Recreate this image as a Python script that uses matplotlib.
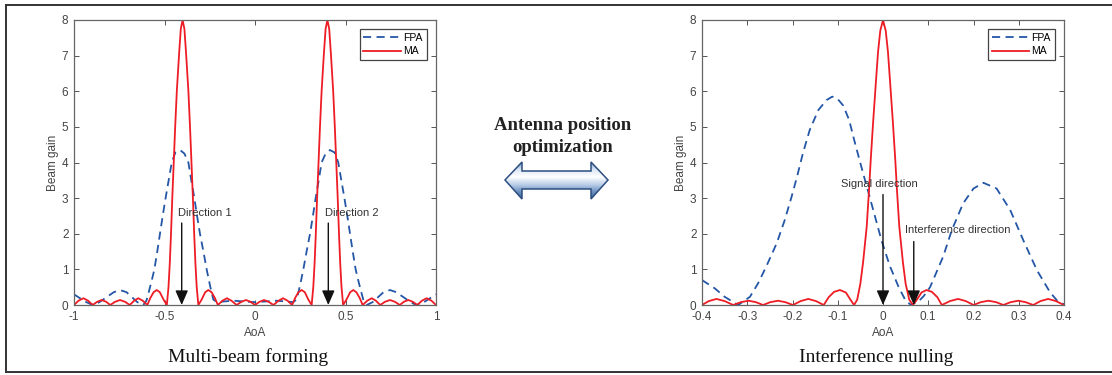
import numpy as np
import matplotlib
matplotlib.use("Agg")
import matplotlib.pyplot as plt
from matplotlib.patches import Polygon
from matplotlib.colors import LinearSegmentedColormap

plt.rcParams["font.family"] = ["Liberation Sans", "DejaVu Sans"]

# ---- left panel: multi-beam forming ----
aoa_ma_left = [
    -1.0, -0.975, -0.948, -0.922, -0.897, -0.872, -0.847, -0.822, -0.8, -0.773,
    -0.746, -0.718, -0.692, -0.668, -0.645, -0.62, -0.595, -0.578, -0.56, -0.543,
    -0.526, -0.505, -0.487, -0.478, -0.471, -0.464, -0.457, -0.449, -0.441, -0.432,
    -0.42, -0.41, -0.4, -0.39, -0.38, -0.368, -0.359, -0.351, -0.343, -0.336,
    -0.329, -0.322, -0.313, -0.295, -0.275, -0.258, -0.24, -0.222, -0.205, -0.18,
    -0.155, -0.13, -0.102, -0.075, -0.05, -0.025, 0.0, 0.025, 0.05, 0.075,
    0.102, 0.13, 0.155, 0.18, 0.205, 0.222, 0.24, 0.258, 0.275, 0.295,
    0.313, 0.322, 0.329, 0.336, 0.343, 0.351, 0.359, 0.368, 0.38, 0.39,
    0.4, 0.41, 0.42, 0.432, 0.441, 0.449, 0.457, 0.464, 0.471, 0.478,
    0.487, 0.505, 0.526, 0.543, 0.56, 0.578, 0.595, 0.62, 0.645, 0.668,
    0.692, 0.718, 0.746, 0.773, 0.8, 0.822, 0.847, 0.872, 0.897, 0.922,
    0.948, 0.975, 1.0,
]
gain_ma_left = [
    0.0, 0.12, 0.19, 0.12, 0.0, 0.09, 0.14, 0.09, 0.0, 0.09,
    0.14, 0.09, 0.0, 0.12, 0.19, 0.12, 0.0, 0.2, 0.36, 0.42,
    0.36, 0.15, 0.0, 0.5, 1.15, 2.0, 3.0, 4.0, 5.0, 6.0,
    7.0, 7.75, 8.0, 7.75, 7.0, 6.0, 5.0, 4.0, 3.0, 2.0,
    1.15, 0.5, 0.0, 0.15, 0.36, 0.42, 0.36, 0.2, 0.0, 0.12,
    0.19, 0.12, 0.0, 0.09, 0.14, 0.09, 0.0, 0.09, 0.14, 0.09,
    0.0, 0.12, 0.19, 0.12, 0.0, 0.2, 0.36, 0.42, 0.36, 0.15,
    0.0, 0.5, 1.15, 2.0, 3.0, 4.0, 5.0, 6.0, 7.0, 7.75,
    8.0, 7.75, 7.0, 6.0, 5.0, 4.0, 3.0, 2.0, 1.15, 0.5,
    0.0, 0.15, 0.36, 0.42, 0.36, 0.2, 0.0, 0.12, 0.19, 0.12,
    0.0, 0.09, 0.14, 0.09, 0.0, 0.09, 0.14, 0.09, 0.0, 0.12,
    0.19, 0.12, 0.0,
]
aoa_fpa_left = [
    -1.0, -0.97, -0.94, -0.91, -0.89, -0.86, -0.82, -0.78, -0.746, -0.71,
    -0.68, -0.65, -0.617, -0.6, -0.585, -0.57, -0.556, -0.54, -0.525, -0.51,
    -0.494, -0.477, -0.46, -0.44, -0.414, -0.39, -0.368, -0.352, -0.335, -0.32,
    -0.304, -0.285, -0.267, -0.255, -0.242, -0.23, -0.21, -0.17, -0.12, -0.06,
    0.0, 0.06, 0.12, 0.17, 0.21, 0.23, 0.242, 0.255, 0.267, 0.285,
    0.304, 0.32, 0.335, 0.352, 0.368, 0.39, 0.414, 0.44, 0.46, 0.477,
    0.494, 0.51, 0.525, 0.54, 0.556, 0.57, 0.585, 0.6, 0.617, 0.65,
    0.68, 0.71, 0.746, 0.78, 0.82, 0.86, 0.89, 0.91, 0.94, 0.97, 1.0,
]
gain_fpa_left = [
    0.30, 0.2, 0.1, 0.03, 0.0, 0.08, 0.22, 0.36, 0.42, 0.36,
    0.22, 0.08, 0.0, 0.12, 0.4, 0.7, 1.0, 1.5, 2.0, 2.5,
    3.0, 3.5, 4.0, 4.28, 4.35, 4.25, 4.0, 3.5, 3.0, 2.5,
    2.0, 1.5, 1.0, 0.7, 0.4, 0.15, 0.08, 0.1, 0.12, 0.1,
    0.08, 0.1, 0.12, 0.1, 0.08, 0.15, 0.4, 0.7, 1.0, 1.5,
    2.0, 2.5, 3.0, 3.5, 4.0, 4.25, 4.35, 4.28, 4.0, 3.5,
    3.0, 2.5, 2.0, 1.5, 1.0, 0.7, 0.4, 0.12, 0.0, 0.08,
    0.22, 0.36, 0.42, 0.36, 0.22, 0.08, 0.0, 0.03, 0.1, 0.2, 0.30,
]

# ---- right panel: interference nulling ----
aoa_ma_right = [
    -0.4, -0.385, -0.368, -0.35, -0.331, -0.314, -0.297, -0.281, -0.265, -0.249,
    -0.232, -0.216, -0.199, -0.182, -0.165, -0.148, -0.131, -0.12, -0.108, -0.095,
    -0.082, -0.072, -0.064, -0.057, -0.05, -0.044, -0.036, -0.031, -0.027, -0.022,
    -0.016, -0.011, -0.006, 0.0, 0.006, 0.011, 0.016, 0.022, 0.027, 0.031,
    0.036, 0.044, 0.05, 0.058, 0.066, 0.075, 0.085, 0.096, 0.108, 0.12,
    0.13, 0.148, 0.166, 0.183, 0.2, 0.216, 0.233, 0.25, 0.266, 0.282,
    0.299, 0.315, 0.332, 0.348, 0.365, 0.382, 0.4,
]
gain_ma_right = [
    0.0, 0.11, 0.17, 0.11, 0.0, 0.08, 0.12, 0.08, 0.0, 0.08,
    0.12, 0.08, 0.0, 0.11, 0.17, 0.11, 0.0, 0.22, 0.37, 0.42,
    0.35, 0.15, 0.0, 0.15, 0.6, 1.2, 2.2, 3.2, 4.1, 5.1,
    6.2, 7.1, 7.7, 8.0, 7.7, 7.1, 6.2, 5.1, 4.1, 3.2,
    2.2, 1.2, 0.6, 0.15, 0.0, 0.15, 0.35, 0.42, 0.37, 0.22,
    0.0, 0.11, 0.17, 0.11, 0.0, 0.08, 0.12, 0.08, 0.0, 0.08,
    0.12, 0.08, 0.0, 0.11, 0.17, 0.11, 0.0,
]
aoa_fpa_right = [
    -0.4, -0.372, -0.35, -0.32, -0.294, -0.276, -0.258, -0.235, -0.217, -0.202,
    -0.19, -0.177, -0.162, -0.143, -0.125, -0.112, -0.1, -0.088, -0.075, -0.062,
    -0.047, -0.032, -0.018, -0.003, 0.015, 0.034, 0.05, 0.062, 0.08, 0.09,
    0.104, 0.133, 0.152, 0.177, 0.2, 0.222, 0.251, 0.281, 0.31, 0.34,
    0.369, 0.385, 0.4,
]
gain_fpa_right = [
    0.70, 0.47, 0.23, 0.0, 0.23, 0.61, 1.08, 1.73, 2.39, 3.04,
    3.6, 4.26, 4.91, 5.47, 5.75, 5.85, 5.78, 5.6, 5.2, 4.55,
    3.84, 3.15, 2.5, 1.8, 1.1, 0.52, 0.12, 0.0, 0.12, 0.25,
    0.5, 1.36, 2.1, 2.85, 3.27, 3.43, 3.27, 2.67, 1.82, 0.98,
    0.36, 0.12, 0.02,
]

left_xticks = [-1, -0.5, 0, 0.5, 1]
left_xticklabels = ["-1", "-0.5", "0", "0.5", "1"]
right_xticks = [-0.4, -0.3, -0.2, -0.1, 0, 0.1, 0.2, 0.3, 0.4]
right_xticklabels = ["-0.4", "-0.3", "-0.2", "-0.1", "0", "0.1", "0.2", "0.3", "0.4"]
yticks = [0, 1, 2, 3, 4, 5, 6, 7, 8]

# direction markers: (label, text x, text y, arrow x, arrow top)
left_marks = [("Direction 1", -0.425, 2.57, -0.405, 2.3),
              ("Direction 2", 0.387, 2.57, 0.405, 2.3)]
right_marks = [("Signal direction", -0.093, 3.39, 0.0, 3.1),
               ("Interference direction", 0.048, 2.1, 0.068, 1.78)]

BLUE = "#2456a6"
RED = "#ee1c25"
W, H = 1112, 375


def style_axes(ax, xlim, xticks, xticklabels):
    ax.set_xlim(*xlim)
    ax.set_ylim(0, 8)
    ax.set_xticks(xticks)
    ax.set_xticklabels(xticklabels)
    ax.set_yticks(yticks)
    ax.tick_params(direction="in", top=True, right=True, length=3.5, width=0.7,
                   colors="#555555", labelsize=8.5, labelcolor="#444444", pad=4)
    for sp in ax.spines.values():
        sp.set_color("#666666")
        sp.set_linewidth(0.9)
    ax.set_xlabel("AoA", fontsize=8.5, color="#444444", labelpad=3)
    ax.set_ylabel("Beam gain", fontsize=8.5, color="#444444", labelpad=2)
    leg = ax.legend(loc="upper right", fontsize=7.5, handlelength=3.6,
                    handletextpad=0.25, borderpad=0.35, labelspacing=0.3,
                    fancybox=False, framealpha=1, borderaxespad=0.9)
    leg.get_frame().set_edgecolor("#444444")
    leg.get_frame().set_linewidth(0.9)


def draw_marks(ax, marks):
    for label, tx, ty, axx, top in marks:
        ax.text(tx, ty, label, fontsize=8, color="#333333", va="center", ha="left")
        ax.annotate("", xy=(axx, 0.0), xytext=(axx, top),
                    arrowprops=dict(arrowstyle="-|>,head_length=0.8,head_width=0.35",
                                    color="#111111", lw=1.0,
                                    mutation_scale=11, shrinkA=0, shrinkB=0))


fig = plt.figure(figsize=(W / 100, H / 100), dpi=100)

# background layer for frame, captions and the middle arrow (pixel coords)
bg = fig.add_axes([0, 0, 1, 1], zorder=0)
bg.set_xlim(0, W)
bg.set_ylim(H, 0)
bg.axis("off")
bg.plot([6, W], [5, 5], color="#333333", lw=1.4)
bg.plot([6, W], [372, 372], color="#333333", lw=1.4)
bg.plot([6, 6], [5, 372], color="#333333", lw=1.4)

bg.text(248, 357, "Multi-beam forming", family="Liberation Serif", fontsize=14,
        ha="center", va="center", color="#111111")
bg.text(876, 357, "Interference nulling", family="Liberation Serif", fontsize=14,
        ha="center", va="center", color="#111111")
bg.text(563, 125, "Antenna position", family="Liberation Serif", fontsize=13.5,
        fontweight="bold", ha="center", va="center", color="#222222")
bg.text(563, 147, "optimization", family="Liberation Serif", fontsize=13.5,
        fontweight="bold", ha="center", va="center", color="#222222")

arrow_pts = [(505, 180), (522, 162), (522, 171), (591, 171), (591, 162),
             (608, 180), (591, 199), (591, 189), (522, 189), (522, 199)]
arrow = Polygon(arrow_pts, closed=True, facecolor="none", edgecolor="#2d4f80", lw=1.1,
                zorder=3)
bg.add_patch(arrow)
grad_cmap = LinearSegmentedColormap.from_list(
    "arr", ["#7d9fcc", "#dbe7f6", "#ffffff", "#bfd2ea", "#7093c2", "#3a5e93"])
grad = np.linspace(0, 1, 64).reshape(-1, 1)
img = bg.imshow(grad, cmap=grad_cmap, extent=[505, 608, 199, 162], aspect="auto",
                zorder=2)
img.set_clip_path(arrow)
bg.set_xlim(0, W)
bg.set_ylim(H, 0)

# left plot
ax1 = fig.add_axes([74 / W, 1 - 305 / H, 362 / W, 285 / H], zorder=1)
ax1.plot(aoa_fpa_left, gain_fpa_left, "--", color=BLUE, lw=1.3, dashes=(4.5, 3), label="FPA")
ax1.plot(aoa_ma_left, gain_ma_left, "-", color=RED, lw=1.3, label="MA")
style_axes(ax1, (-1, 1), left_xticks, left_xticklabels)
draw_marks(ax1, left_marks)

# right plot
ax2 = fig.add_axes([702 / W, 1 - 305 / H, 362 / W, 285 / H], zorder=1)
ax2.plot(aoa_fpa_right, gain_fpa_right, "--", color=BLUE, lw=1.3, dashes=(4.5, 3), label="FPA")
ax2.plot(aoa_ma_right, gain_ma_right, "-", color=RED, lw=1.3, label="MA")
style_axes(ax2, (-0.4, 0.4), right_xticks, right_xticklabels)
draw_marks(ax2, right_marks)

fig.savefig("out.png", dpi=100)
